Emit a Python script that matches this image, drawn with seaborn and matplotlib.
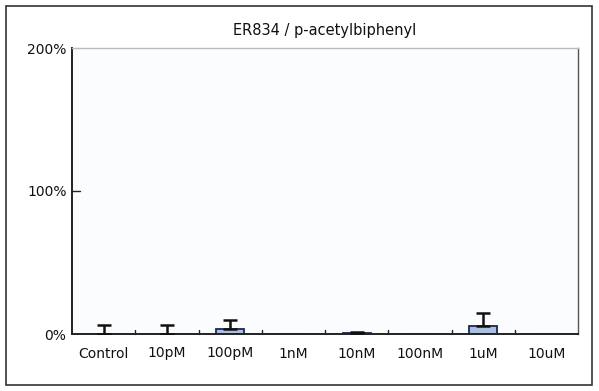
import matplotlib
matplotlib.use("Agg")
import matplotlib.pyplot as plt
import seaborn as sns
import pandas as pd
import numpy as np
from matplotlib.patches import Rectangle

categories = ["Control", "10pM", "100pM", "1nM", "10nM", "100nM", "1uM", "10uM"]
values = [0.0, 0.0, 3.5, 0.0, 0.8, 0.0, 5.6, 0.0]
errors = [6.0, 6.0, 6.3, 0.0, 0.9, 0.0, 9.0, 0.0]
yticks = [0, 100, 200]
ytick_labels = ["0%", "100%", "200%"]
title = "ER834 / p-acetylbiphenyl"

sns.set_theme(style="white")
plt.rcParams["font.family"] = ["DejaVu Sans"]
plt.rcParams["text.color"] = "#111111"
plt.rcParams["xtick.color"] = "#111111"
plt.rcParams["ytick.color"] = "#111111"

fig = plt.figure(figsize=(5.99, 3.91), dpi=100)
ax = fig.add_axes([72/599, 1-334/391, (578-72)/599, (334-48)/391])

df = pd.DataFrame({"cat": categories, "val": values})
sns.barplot(data=df, x="cat", y="val", order=categories, color="#a3bde6",
            edgecolor="#1a2a50", linewidth=1.3, width=0.44, ax=ax, errorbar=None)

x = np.arange(len(categories))
v = np.array(values)
e = np.array(errors)
mask = e > 0
ax.errorbar(x[mask], v[mask], yerr=[np.zeros(mask.sum()), e[mask]], fmt="none",
            ecolor="#111111", elinewidth=1.8, capsize=5, capthick=1.8, zorder=5)

ax.set_xlim(-0.5, len(categories) - 0.5)
ax.set_ylim(0, 200)
ax.set_yticks(yticks)
ax.set_yticklabels(ytick_labels, fontsize=10)
ax.set_xticks(x)
ax.set_xticklabels(categories, fontsize=10)
ax.tick_params(axis="x", length=0, pad=9)
ax.tick_params(axis="y", length=0, pad=4)
for b in np.arange(0.5, len(categories) - 0.5, 1.0):
    ax.plot([b, b], [0, 3], color="#222222", lw=1.0, clip_on=False)
ax.plot([-0.5, -0.38], [100, 100], color="#222222", lw=1.0)
ax.set_xlabel("")
ax.set_ylabel("")
ax.set_facecolor("#fbfcfd")
ax.spines["left"].set_color("#222222"); ax.spines["left"].set_linewidth(1.4)
ax.spines["bottom"].set_color("#222222"); ax.spines["bottom"].set_linewidth(1.4)
ax.spines["top"].set_color("#bbbbbb"); ax.spines["top"].set_linewidth(1.0)
ax.spines["right"].set_color("#555555"); ax.spines["right"].set_linewidth(1.0)

fig.text(0.5*(72+578)/599, 1-30/391, title, ha="center", va="center", fontsize=10.5)
fig.patches.append(Rectangle((6/599, 6/391), (592-6)/599, (385-6)/391,
                             transform=fig.transFigure, fill=False,
                             edgecolor="#333333", linewidth=1.2))

fig.savefig("out.png", dpi=100)
